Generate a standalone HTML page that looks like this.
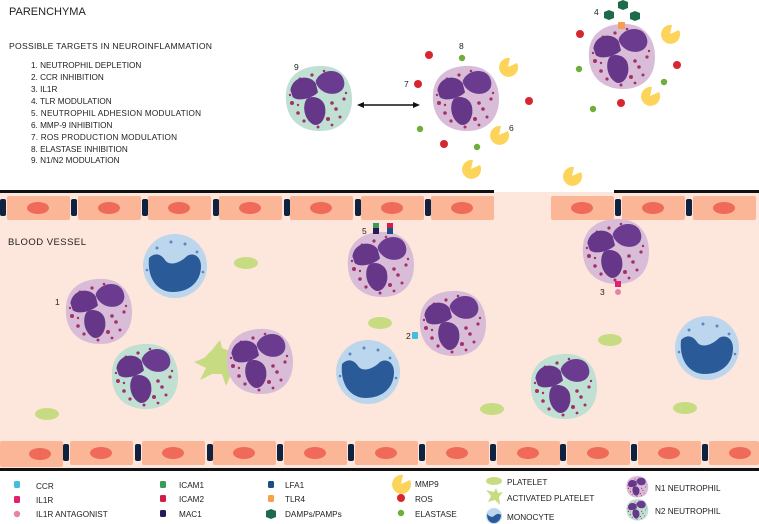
<!DOCTYPE html>
<html><head><meta charset="utf-8"><style>
html,body{margin:0;padding:0;background:#fff}
svg{display:block}
text{font-family:"Liberation Sans",sans-serif;fill:#222}
</style></head><body>
<svg width="759" height="524" viewBox="0 0 759 524" xmlns="http://www.w3.org/2000/svg">
<defs>
<g id="nuc" transform="translate(0,-2) scale(1.15)">
  <path d="M-24,-6 C-22,-18 -8,-20 -2,-12 L0,-4 C-6,2 -18,4 -22,0 Z" fill="#663688"/>
  <path d="M-2,-14 C2,-24 18,-26 22,-16 C26,-6 16,0 6,-4 C2,-6 -2,-10 -2,-14 Z" fill="#6a3b8e"/>
  <path d="M-10,2 C-6,-2 4,0 6,8 C8,18 2,26 -4,24 C-12,20 -14,8 -10,2 Z" fill="#663688"/>
</g>
<g id="gran" fill="#a33068">
  <circle cx="-26" cy="4" r="2"/><circle cx="-20" cy="14" r="1.8"/><circle cx="-14" cy="22" r="1.6"/><circle cx="10" cy="20" r="2"/>
  <circle cx="18" cy="10" r="1.8"/><circle cx="26" cy="0" r="1.6"/><circle cx="24" cy="-12" r="1.5"/><circle cx="14" cy="26" r="1.4"/>
  <circle cx="-6" cy="-24" r="1.6"/><circle cx="6" cy="-28" r="1.3"/><circle cx="-18" cy="-20" r="1.5"/><circle cx="14" cy="4" r="1.8"/>
  <circle cx="-24" cy="-12" r="1.3"/><circle cx="22" cy="18" r="1.5"/><circle cx="0" cy="28" r="1.5"/><circle cx="-28" cy="-4" r="1.2"/>
  <circle cx="28" cy="-6" r="1.2"/><circle cx="-8" cy="14" r="1.1"/><circle cx="6" cy="14" r="1.3"/><circle cx="-20" cy="6" r="1.2"/>
</g>
<g id="n1"><path d="M-32,-6 C-30,-28 -10,-34 6,-33 C24,-32 34,-18 34,0 C34,20 22,32 2,32 C-18,32 -34,20 -32,-6 Z" fill="#d9bcd8"/><use href="#gran"/><use href="#nuc"/></g>
<g id="n2"><path d="M-32,-6 C-30,-28 -10,-34 6,-33 C24,-32 34,-18 34,0 C34,20 22,32 2,32 C-18,32 -34,20 -32,-6 Z" fill="#bfe0d2"/><use href="#gran"/><use href="#nuc"/></g>
<g id="mono"><circle r="32" fill="#bcd6ee"/><path d="M-26,-8 C-20,-14 -14,-12 -10,-6 C-6,0 4,-2 12,-10 C18,-14 26,-10 26,0 C26,16 14,26 -2,26 C-18,26 -28,12 -26,-8 Z" fill="#2b5a99"/>
<g fill="#5a85bd"><circle cx="-18" cy="-18" r="1.5"/><circle cx="-4" cy="-24" r="1.5"/><circle cx="10" cy="-22" r="1.5"/><circle cx="22" cy="-14" r="1.4"/><circle cx="28" cy="6" r="1.3"/><circle cx="-28" cy="4" r="1.3"/></g></g>
<ellipse id="plt" rx="12" ry="6" fill="#c7dc82"/>
<path id="mmp" d="M0,0 L9,-4 A9.5,9.5 0 1 1 2,-9 Z" fill="#fcd45a"/>
<circle id="ros" r="4" fill="#d8262e"/>
<circle id="ela" r="3.2" fill="#6fae3a"/>
<g id="cellT"><rect x="0" y="0" width="63" height="24" rx="2" fill="#fbb597"/><ellipse cx="31" cy="12" rx="11" ry="6" fill="#ef6a58"/></g>
<rect id="jn" x="-3" y="3" width="6" height="17" rx="2" fill="#0f2240"/>
</defs>

<rect x="0" y="192" width="759" height="277" fill="#fde6dc"/>
<rect x="0" y="190" width="494" height="3" fill="#111"/>
<rect x="614" y="190" width="145" height="3" fill="#111"/>
<use href="#cellT" x="7" y="196"/><use href="#cellT" x="78" y="196"/><use href="#cellT" x="148" y="196"/><use href="#cellT" x="219" y="196"/>
<use href="#cellT" x="290" y="196"/><use href="#cellT" x="361" y="196"/><use href="#cellT" x="431" y="196"/>
<use href="#cellT" x="551" y="196"/><use href="#cellT" x="622" y="196"/><use href="#cellT" x="693" y="196"/>
<use href="#jn" x="3" y="196"/><use href="#jn" x="74" y="196"/><use href="#jn" x="145" y="196"/><use href="#jn" x="216" y="196"/>
<use href="#jn" x="287" y="196"/><use href="#jn" x="358" y="196"/><use href="#jn" x="428" y="196"/><use href="#jn" x="618" y="196"/><use href="#jn" x="689" y="196"/>
<g transform="translate(0,441)">
<rect x="0" y="0" width="63" height="26" rx="2" fill="#fbb597"/><ellipse cx="40" cy="13" rx="11" ry="6" fill="#ef6a58"/>
<use href="#cellT" x="70"/><use href="#cellT" x="142"/><use href="#cellT" x="213"/><use href="#cellT" x="284"/><use href="#cellT" x="355"/>
<use href="#cellT" x="426"/><use href="#cellT" x="497"/><use href="#cellT" x="567"/><use href="#cellT" x="638"/>
<rect x="709" y="0" width="50" height="24" rx="2" fill="#fbb597"/><ellipse cx="740" cy="12" rx="11" ry="6" fill="#ef6a58"/>
<use href="#jn" x="66"/><use href="#jn" x="138"/><use href="#jn" x="210"/><use href="#jn" x="280"/><use href="#jn" x="351"/>
<use href="#jn" x="422"/><use href="#jn" x="493"/><use href="#jn" x="563"/><use href="#jn" x="634"/><use href="#jn" x="705"/>
</g>
<rect x="0" y="468" width="759" height="3" fill="#111"/>

<text x="9" y="15" font-size="11">PARENCHYMA</text>
<text x="9" y="49" font-size="8.6" textLength="203">POSSIBLE TARGETS IN NEUROINFLAMMATION</text>
<g font-size="8.2">
<text x="31" y="68">1. NEUTROPHIL DEPLETION</text>
<text x="31" y="80">2. CCR INHIBITION</text>
<text x="31" y="92">3. IL1R</text>
<text x="31" y="104">4. TLR MODULATION</text>
<text x="31" y="116" textLength="170">5. NEUTROPHIL ADHESION MODULATION</text>
<text x="31" y="128">6. MMP-9 INHIBITION</text>
<text x="31" y="140" textLength="146">7. ROS PRODUCTION MODULATION</text>
<text x="31" y="152">8. ELASTASE INHIBITION</text>
<text x="31" y="163">9. N1/N2 MODULATION</text>
</g>
<text x="8" y="245" font-size="9.5" textLength="78">BLOOD VESSEL</text>

<use href="#n2" x="318" y="99"/><text x="294" y="70" font-size="8.5">9</text>
<line x1="362" y1="105" x2="415" y2="105" stroke="#111" stroke-width="1.5"/>
<path d="M357,105 l7,-3 v6 Z M420,105 l-7,-3 v6 Z" fill="#111"/>
<use href="#n1" x="465" y="99"/>
<text x="404" y="87" font-size="8.5">7</text><text x="459" y="49" font-size="8.5">8</text><text x="509" y="131" font-size="8.5">6</text>
<use href="#ros" x="418" y="84"/><use href="#ros" x="429" y="55"/><use href="#ros" x="529" y="101"/><use href="#ros" x="444" y="144"/>
<use href="#ela" x="462" y="58"/><use href="#ela" x="420" y="129"/><use href="#ela" x="477" y="147"/>
<use href="#mmp" x="508" y="67"/><use href="#mmp" x="499" y="135"/><use href="#mmp" x="471" y="169"/><use href="#mmp" x="572" y="176"/>
<use href="#n1" x="621" y="57"/>
<text x="594" y="15" font-size="8.5">4</text>
<g fill="#1e6b4c"><polygon points="623,0 628,2 628,8 623,10 618,8 618,2"/><polygon points="609,10 614,12 614,18 609,20 604,18 604,12"/><polygon points="635,11 640,13 640,19 635,21 630,19 630,13"/></g>
<rect x="618" y="22" width="7" height="7" rx="1" fill="#f6a04d"/>
<use href="#ros" x="580" y="34"/><use href="#ros" x="677" y="65"/><use href="#ros" x="621" y="103"/>
<use href="#ela" x="579" y="69"/><use href="#ela" x="664" y="82"/><use href="#ela" x="593" y="109"/>
<use href="#mmp" x="670" y="34"/><use href="#mmp" x="650" y="96"/>

<use href="#mono" x="175" y="266"/>
<use href="#plt" x="246" y="263"/>
<use href="#n1" x="380" y="265"/>
<text x="362" y="234" font-size="8.5">5</text>
<rect x="373" y="223" width="6" height="5" fill="#3a9a5a"/><rect x="373" y="228" width="6" height="6" fill="#2a1a5a"/>
<rect x="387" y="223" width="6" height="5" fill="#d21d4a"/><rect x="387" y="228" width="6" height="6" fill="#1c4d86"/>
<use href="#n1" x="615" y="252"/>
<text x="600" y="295" font-size="8.5">3</text>
<rect x="615" y="281" width="6" height="6" fill="#e2206e"/><circle cx="618" cy="292" r="3" fill="#e582a8"/>
<use href="#n1" x="98" y="312"/><text x="55" y="305" font-size="8.5">1</text>
<use href="#plt" x="380" y="323"/>
<use href="#n1" x="452" y="324"/><text x="406" y="339" font-size="8.5">2</text>
<rect x="412" y="332" width="6" height="7" rx="1" fill="#40c0de"/>
<use href="#plt" x="610" y="340"/>
<use href="#mono" x="707" y="348"/>
<path d="M212,350 L220,340 L222,348 L232,352 L236,362 L232,372 L226,386 L222,374 L212,374 L200,380 L206,368 L194,362 L204,358 Z" fill="#c7dc82"/>
<use href="#n1" x="259" y="362"/>
<use href="#mono" x="368" y="372"/>
<use href="#n2" x="144" y="377"/>
<use href="#n2" x="563" y="387"/>
<use href="#plt" x="47" y="414"/><use href="#plt" x="492" y="409"/><use href="#plt" x="685" y="408"/>

<g font-size="8.2">
<rect x="14" y="481" width="6" height="7" rx="1.5" fill="#40c0de"/><text x="36" y="489">CCR</text>
<rect x="14" y="496" width="6" height="7" rx="1.5" fill="#e2206e"/><text x="36" y="503">IL1R</text>
<circle cx="17" cy="514" r="3.2" fill="#e582a8"/><text x="36" y="517">IL1R ANTAGONIST</text>
<rect x="160" y="481" width="6" height="7" rx="1.5" fill="#3a9a5a"/><text x="179" y="488">ICAM1</text>
<rect x="160" y="495" width="6" height="7" rx="1.5" fill="#d21d4a"/><text x="179" y="502">ICAM2</text>
<rect x="160" y="510" width="6" height="7" rx="1.5" fill="#2a1a5a"/><text x="179" y="517">MAC1</text>
<rect x="268" y="481" width="6" height="7" rx="1.5" fill="#1c4d86"/><text x="285" y="488">LFA1</text>
<rect x="268" y="495" width="6" height="7" rx="1.5" fill="#f6a04d"/><text x="285" y="502">TLR4</text>
<polygon points="271,509 276,511 276,517 271,519 266,517 266,511" fill="#1e6b4c"/><text x="285" y="517">DAMPs/PAMPs</text>
<use href="#mmp" x="401" y="484"/><text x="415" y="487">MMP9</text>
<use href="#ros" x="401" y="498"/><text x="415" y="502">ROS</text>
<use href="#ela" x="401" y="513"/><text x="415" y="517">ELASTASE</text>
<ellipse cx="494" cy="481" rx="8" ry="4" fill="#c7dc82"/><text x="507" y="485">PLATELET</text>
<path d="M494,492 L496,488 L498,493 L503,492 L499,497 L500,505 L495,500 L488,502 L491,496 L486,490 Z" fill="#c7dc82"/><text x="507" y="501">ACTIVATED PLATELET</text>
<circle cx="494" cy="516" r="8" fill="#bcd6ee"/><path d="M487,514 C489,516 492,518 494,516 C496,514 499,513 501,515 C501,520 497,523 494,523 C490,523 487,520 487,514 Z" fill="#2b5a99"/><text x="507" y="520">MONOCYTE</text>
<g transform="translate(637,487) scale(0.33)"><use href="#n1"/></g><text x="655" y="491">N1 NEUTROPHIL</text>
<g transform="translate(637,510) scale(0.33)"><use href="#n2"/></g><text x="655" y="514">N2 NEUTROPHIL</text>
</g>
</svg>
</body></html>
